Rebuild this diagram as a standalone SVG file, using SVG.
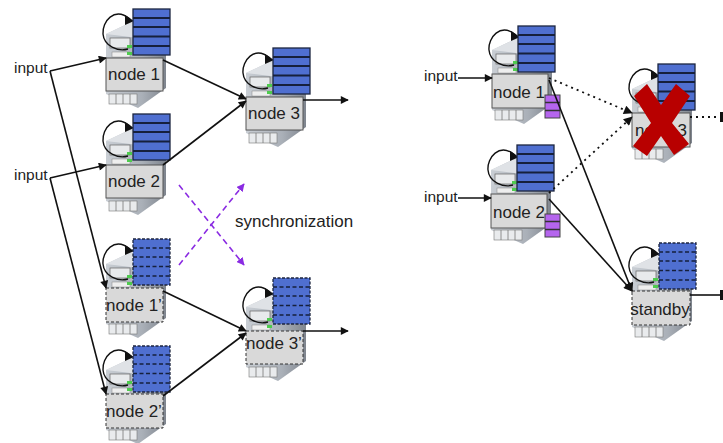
<svg xmlns="http://www.w3.org/2000/svg" width="723" height="443" viewBox="0 0 723 443">
<style>
text{font-family:"Liberation Sans",Arial,sans-serif;fill:#222}
.lbl{font-size:17px;text-anchor:middle}
.in{font-size:15.5px}
.box{fill:#d9d9d9;stroke:#555;stroke-width:1}
.dash{stroke-dasharray:3 2;stroke:#333}
.c{fill:none;stroke:#111;stroke-width:1.6}
.d{stroke-dasharray:2 4;stroke-width:1.8}
.p{fill:none;stroke:#8a2be2;stroke-width:1.6;stroke-dasharray:6 4}
</style>
<defs>
<marker id="a" viewBox="0 0 10 10" refX="9" refY="5" markerWidth="9" markerHeight="8" markerUnits="userSpaceOnUse" orient="auto"><path d="M0 0L10 5L0 10z" fill="#111"/></marker>
<marker id="l" viewBox="0 0 10 10" refX="9" refY="5" markerWidth="11" markerHeight="9" markerUnits="userSpaceOnUse" orient="auto"><path d="M0 0L10 5L0 10z" fill="#111"/></marker>
<marker id="v" viewBox="0 0 10 10" refX="9" refY="5" markerWidth="8" markerHeight="8" markerUnits="userSpaceOnUse" orient="auto"><path d="M0 0L10 5L0 10z" fill="#8a2be2"/></marker>
<linearGradient id="sv" x1="0" x2="1" y1="0" y2="0"><stop offset="0" stop-color="#c9ced4"/><stop offset="0.6" stop-color="#aab0b8"/><stop offset="1" stop-color="#7f858e"/></linearGradient>
<g id="srv">
<path d="M0 -24L34 -40L60 -34L60 30L32 50L0 36z" fill="url(#sv)"/>
<path d="M0 -24L34 -40L60 -34L32 -20z" fill="#dfe2e6"/>
<rect x="4" y="-20" width="20" height="10" fill="#e8eaec" stroke="#666" stroke-width=".7"/>
<rect x="6" y="-6" width="18" height="5" fill="#eee" stroke="#888" stroke-width=".5"/>
<rect x="3" y="36" width="28" height="10" fill="#e9ebed" stroke="#777" stroke-width=".6"/>
<path d="M10 36v10M17 36v10M24 36v10" stroke="#777" stroke-width=".8"/>
<rect x="21" y="-13" width="5" height="3" fill="#4ecb4e"/><rect x="21" y="-6" width="5" height="3" fill="#4ecb4e"/>
<path d="M24 -39C8 -52 -4 -36 -3 -24C-2 -12 12 -6 22 -9" fill="none" stroke="#111" stroke-width="1.4"/>
<path d="M19 -43L28 -37L19 -33z" fill="#111"/>
</g>
<g id="st">
<rect x="27" y="-49" width="37" height="46" fill="#4f6fd0" stroke="#1c2540" stroke-width="1.3"/>
<path d="M27 -40h37M27 -31h37M27 -21.500h37M27 -12h37" stroke="#16203c" stroke-width="1.800"/>
</g>
<g id="sd">
<rect x="27" y="-49" width="37" height="46" fill="#4f6fd0" stroke="#1c2540" stroke-width="1.300" stroke-dasharray="3 1.500"/>
<path d="M27 -40h37M27 -31h37M27 -21.500h37M27 -12h37" stroke="#16203c" stroke-width="1.600" stroke-dasharray="4 2.500"/>
</g>
<g id="pq"><rect width="15" height="23" fill="#b565ee" stroke="#444" stroke-width="1"/><path d="M0 7.500h15M0 15.500h15" stroke="#333" stroke-width="1.500"/></g>
</defs>

<g id="node-1"><use href="#srv" x="106" y="58"/><use href="#st" x="106" y="58"/><rect class="box" x="106" y="58" width="57" height="33"/><text class="lbl" x="134" y="80">node 1</text></g>
<g id="node-2"><use href="#srv" x="106" y="165"/><use href="#st" x="106" y="163"/><rect class="box" x="106" y="165" width="57" height="33"/><text class="lbl" x="134" y="187">node 2</text></g>
<g id="node-3"><use href="#srv" x="246" y="97"/><use href="#st" x="246" y="97"/><rect class="box" x="246" y="97" width="57" height="33"/><text class="lbl" x="274" y="119">node 3</text></g>
<g id="node-1p"><use href="#srv" x="106" y="288"/><use href="#sd" x="106" y="288"/><rect class="box dash" x="106" y="288" width="57" height="34"/><text class="lbl" x="134" y="311">node 1’</text></g>
<g id="node-2p"><use href="#srv" x="106" y="394"/><use href="#sd" x="106" y="395"/><rect class="box dash" x="106" y="394" width="57" height="34"/><text class="lbl" x="134" y="417">node 2’</text></g>
<g id="node-3p"><use href="#srv" x="246" y="331"/><use href="#sd" x="246" y="327"/><rect class="box dash" x="246" y="331" width="57" height="33"/><text class="lbl" x="274" y="349">node 3’</text></g>

<g id="node-r1"><use href="#srv" x="492" y="74"/><use href="#st" x="491" y="75"/><rect class="box" x="492" y="74" width="56" height="34"/><text class="lbl" x="519" y="98">node 1</text></g>
<g id="queue-1"><use href="#pq" x="545" y="95"/></g>
<g id="node-r2"><use href="#srv" x="491" y="194"/><use href="#st" x="490" y="194"/><rect class="box" x="491" y="194" width="56" height="34"/><text class="lbl" x="519" y="218">node 2</text></g>
<g id="queue-2"><use href="#pq" x="545" y="214"/></g>
<g id="node-r3"><use href="#srv" x="632" y="113"/><use href="#st" x="631" y="113"/><rect class="box" x="632" y="113" width="58" height="34"/><text class="lbl" x="661" y="136">node 3</text></g>
<g id="standby"><use href="#srv" x="632" y="291"/><use href="#sd" x="632" y="292"/><rect class="box dash" x="632" y="291" width="58" height="34"/><text class="lbl" x="660" y="315">standby</text></g>

<g id="connectors">
<path class="c" marker-end="url(#a)" d="M50 71L106 58"/>
<path class="c" marker-end="url(#a)" d="M50 71L106 288"/>
<path class="c" marker-end="url(#a)" d="M50 178L106 165"/>
<path class="c" marker-end="url(#a)" d="M50 178L106 394"/>
<path class="c" marker-end="url(#a)" d="M163 60L246 99"/>
<path class="c" marker-end="url(#a)" d="M163 165L246 101"/>
<path class="c" marker-end="url(#a)" d="M163 291L246 331"/>
<path class="c" marker-end="url(#a)" d="M163 396L246 333"/>
<path class="c" marker-end="url(#a)" d="M303 100H348"/>
<path class="c" marker-end="url(#a)" d="M303 331H348"/>
<path class="p" marker-end="url(#v)" d="M179 185L244 265"/>
<path class="p" marker-end="url(#v)" d="M179 265L244 184"/>
<path class="c" marker-end="url(#a)" d="M458 78H492"/>
<path class="c" marker-end="url(#a)" d="M458 198H491"/>
<path class="c d" marker-end="url(#l)" d="M549 78L632 113"/>
<path class="c d" marker-end="url(#l)" d="M549 193L632 117"/>
<path class="c" marker-end="url(#l)" d="M549 80L632 291"/>
<path class="c" marker-end="url(#l)" d="M549 199L632 291"/>
<path class="c d" d="M690 117H720"/><path d="M720 112h3v10h-3z" fill="#111"/>
<path class="c" d="M690 295H720"/><path d="M720 290h3v10h-3z" fill="#111"/>
</g>

<g id="cross"><path d="M647 84L661 105L676 84L690 96L672 123L689 144L674 155L661 136L647 156L633 146L651 123L634 96z" fill="#b80000"/></g>
<text class="in" x="14" y="73">input</text>
<text class="in" x="14" y="180">input</text>
<text class="in" x="424" y="81">input</text>
<text class="in" x="424" y="202">input</text>
<text x="235" y="227" font-size="17">synchronization</text>
</svg>
